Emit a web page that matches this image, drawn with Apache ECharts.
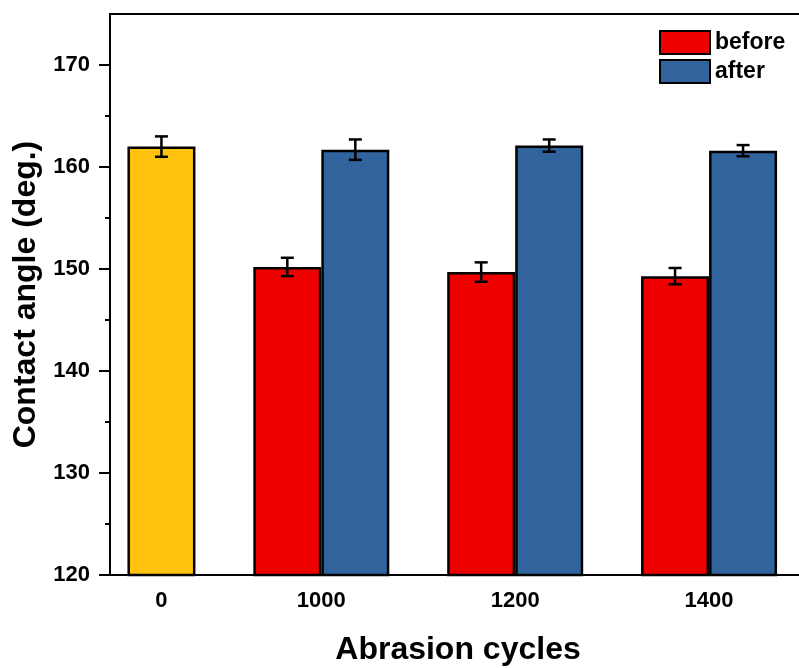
<!DOCTYPE html>
<html><head><meta charset="utf-8">
<script src="https://cdn.jsdelivr.net/npm/echarts@6/dist/echarts.min.js"></script>
<style>html,body{margin:0;padding:0;background:#fff}#c{width:799px;height:668px}</style>
</head><body><div id="c"></div>
<script>
// ---- data ----
const categories = ['0', '1000', '1200', '1400'];
const legendNames = ['before', 'after'];
const initialValues = [162.0, null, null, null];   // untreated (0 cycles)
const initialErr    = [1.0, null, null, null];
const beforeValues  = [null, 150.2, 149.7, 149.3];
const beforeErr     = [null, 0.9, 0.95, 0.8];
const afterValues   = [null, 161.7, 162.1, 161.6];
const afterErr      = [null, 1.0, 0.6, 0.55];
const yTicks      = [120, 130, 140, 150, 160, 170];
const yMinorTicks = [125, 135, 145, 155, 165];
const xTickPos    = [0, 1, 2, 3];

// ---- styles ----
const FONT = '"Liberation Sans", Arial, sans-serif';
const BAR_W = 68;
const C_INIT = '#FFC20E', C_BEFORE = '#EE0000', C_AFTER = '#31639C';

const chart = echarts.init(document.getElementById('c'), null, {renderer: 'canvas'});

const beforeData = [];
beforeValues.forEach((v, i) => { if (v != null) beforeData.push([i, v]); });
const afterData = [];
categories.forEach((c, i) => {
  if (initialValues[i] != null) {
    afterData.push({value: [i, initialValues[i]], itemStyle: {color: C_INIT}});
  } else if (afterValues[i] != null) {
    afterData.push([i, afterValues[i]]);
  }
});
const errBefore = [];
beforeValues.forEach((v, i) => { if (v != null) errBefore.push([i, v, beforeErr[i]]); });
const errAfter = [];
categories.forEach((c, i) => {
  if (initialValues[i] != null) errAfter.push([i, initialValues[i], initialErr[i]]);
  else if (afterValues[i] != null) errAfter.push([i, afterValues[i], afterErr[i]]);
});

function errRender(offset) {
  return function (params, api) {
    const x = api.value(0), v = api.value(1), e = api.value(2);
    const top = api.coord([x, v + e]);
    const bot = api.coord([x, v - e]);
    const cx = top[0] + offset;
    const cap = 6.5;
    const st = {stroke: '#000', lineWidth: 2.5, fill: null};
    return {type: 'group', children: [
      {type: 'line', shape: {x1: cx, y1: top[1], x2: cx, y2: bot[1]}, style: st},
      {type: 'line', shape: {x1: cx - cap, y1: top[1], x2: cx + cap, y2: top[1]}, style: st},
      {type: 'line', shape: {x1: cx - cap, y1: bot[1], x2: cx + cap, y2: bot[1]}, style: st}
    ]};
  };
}

const option = {
  backgroundColor: '#fff',
  animation: false,
  textStyle: {fontFamily: FONT},
  grid: {left: 110, top: 14, width: 696, bottom: 93, show: true, borderColor: '#000', borderWidth: 2,
         containLabel: false, outerBoundsMode: 'none'},
  legend: {
    data: legendNames, orient: 'vertical', left: 659, top: 30, padding: 0,
    itemWidth: 50, itemHeight: 23, itemGap: 4, icon: 'rect',
    textStyle: {fontFamily: FONT, fontSize: 23, fontWeight: 'bold', color: '#000'}
  },
  xAxis: {
    type: 'value', min: -0.09, max: 3.5,
    name: 'Abrasion cycles', nameLocation: 'middle', nameGap: 59, nameMoveOverlap: false,
    nameTextStyle: {fontFamily: FONT, fontSize: 32, fontWeight: 'bold', color: '#000'},
    axisLine: {show: true, onZero: false, lineStyle: {color: '#000', width: 2}},
    axisTick: {show: false},
    splitLine: {show: false},
    axisLabel: {
      customValues: xTickPos, margin: 15,
      fontFamily: FONT, fontSize: 22, fontWeight: 'bold', color: '#000',
      formatter: function (v) {
        const i = Math.round(v);
        return i === 0 ? '{s|' + categories[i] + '}' : categories[i];
      },
      rich: {s: {fontFamily: FONT, fontSize: 22, fontWeight: 'bold', color: '#000', padding: [0, 0, 0, BAR_W]}}
    }
  },
  yAxis: [{
    type: 'value', min: 120, max: 175, position: 'left',
    name: 'Contact angle (deg.)', nameLocation: 'middle', nameGap: 68, nameMoveOverlap: false,
    nameTextStyle: {fontFamily: FONT, fontSize: 32, fontWeight: 'bold', color: '#000'},
    axisLine: {show: true, onZero: false, lineStyle: {color: '#000', width: 2}},
    axisTick: {show: true, customValues: yTicks, length: 11, inside: false, lineStyle: {color: '#000', width: 2}},
    axisLabel: {customValues: yTicks, margin: 20, fontFamily: FONT, fontSize: 22, fontWeight: 'bold', color: '#000'},
    splitLine: {show: false}
  }, {
    type: 'value', min: 120, max: 175, position: 'left', offset: 0,
    axisLine: {show: false, onZero: false},
    axisTick: {show: true, customValues: yMinorTicks, length: 5, inside: false, lineStyle: {color: '#000', width: 2}},
    axisLabel: {show: false},
    splitLine: {show: false}
  }],
  series: [
    {name: 'before', type: 'bar', data: beforeData, barWidth: BAR_W, barGap: '0%',
     itemStyle: {color: C_BEFORE, borderColor: '#000', borderWidth: 2.5}},
    {name: 'after', type: 'bar', data: afterData, barWidth: BAR_W, barGap: '0%',
     itemStyle: {color: C_AFTER, borderColor: '#000', borderWidth: 2.5}},
    {name: 'err-before', type: 'custom', data: errBefore, renderItem: errRender(-BAR_W / 2), z: 10,
     encode: {x: 0, y: 1}},
    {name: 'err-after', type: 'custom', data: errAfter, renderItem: errRender(BAR_W / 2), z: 10,
     encode: {x: 0, y: 1}}
  ]
};
chart.setOption(option);
</script></body></html>
